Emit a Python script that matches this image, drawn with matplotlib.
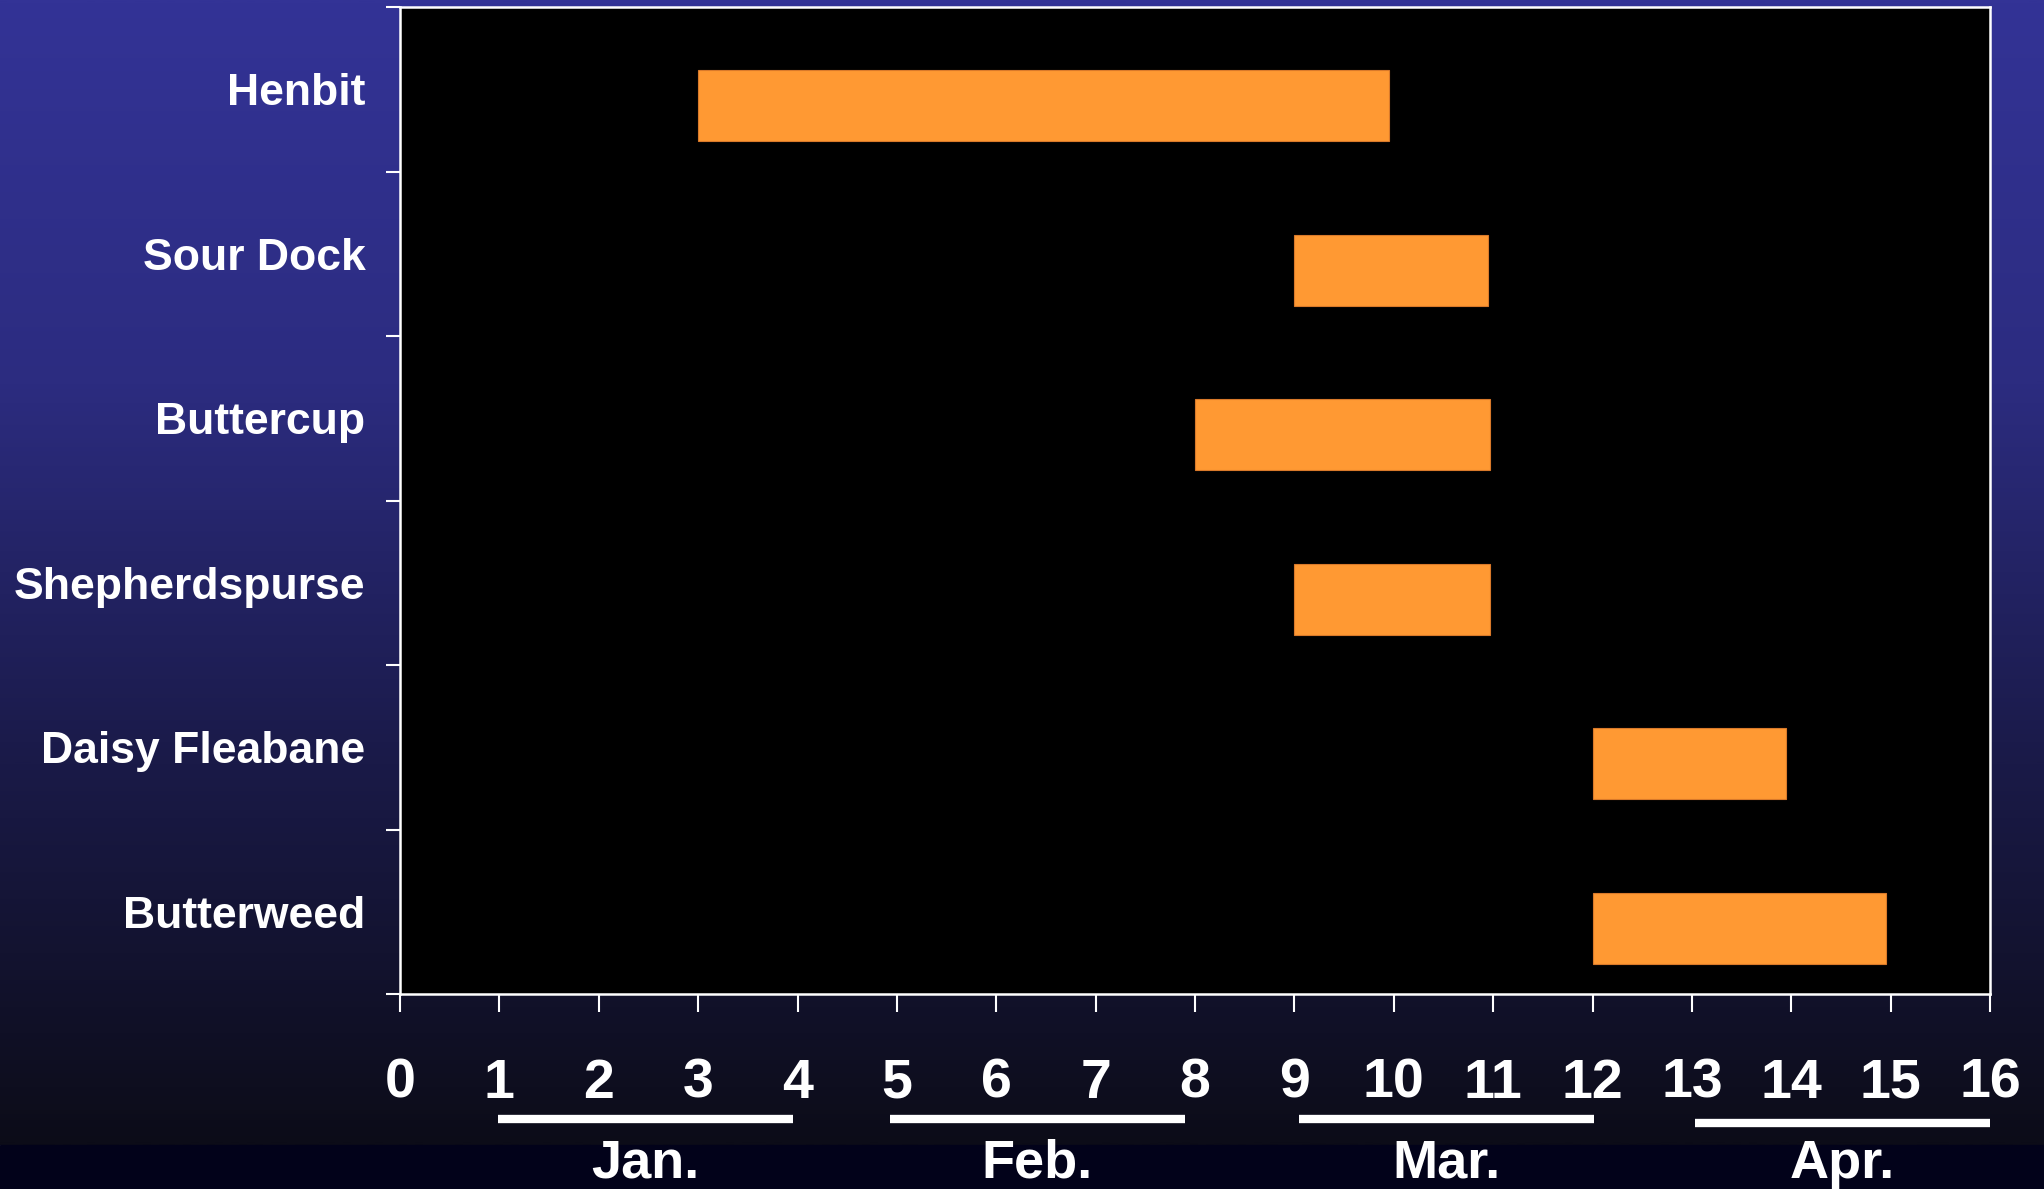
import numpy as np
import matplotlib
matplotlib.use("Agg")
import matplotlib.pyplot as plt
from matplotlib.colors import LinearSegmentedColormap

plt.rcParams['font.family'] = ['Liberation Sans', 'DejaVu Sans']
plt.rcParams['font.weight'] = 'bold'

# emergence windows (weeks from Jan 1)
weeds = ['Henbit', 'Sour Dock', 'Buttercup', 'Shepherdspurse', 'Daisy Fleabane', 'Butterweed']
start = [3, 9, 8, 9, 12, 12]
end = [9.95, 10.95, 10.97, 10.97, 13.95, 14.95]

weeks = list(range(0, 17))
months = ['Jan.', 'Feb.', 'Mar.', 'Apr.']
month_from = [0.99, 4.93, 9.05, 13.03]
month_to = [3.95, 7.9, 12.02, 16.0]

fig = plt.figure(figsize=(20.44, 11.89), dpi=100)

# slide-style background: blue fading to near black, darker strip at the foot
bg = fig.add_axes([0, 0, 1, 1], zorder=-10)
bg.axis('off')
cmap = LinearSegmentedColormap.from_list('bg', ['#333396', '#2c2c80', '#1a1a48', '#0c0c18'])
grad = np.linspace(0, 1, 512).reshape(-1, 1)
bg.set_xlim(0, 1)
bg.set_ylim(0, 1)
bg.axhspan(0, 44 / 1189, color='#02021a')
bg.imshow(grad, cmap=cmap, aspect='auto', extent=[0, 1, 44 / 1189, 1])

ax = fig.add_axes([400 / 2044, 1 - 994 / 1189, 1590 / 2044, 987 / 1189])
ax.set_facecolor('black')

ypos = np.arange(len(weeds)) + 0.6
ax.barh(ypos, np.array(end) - np.array(start), left=start, height=0.43,
        color='#ff9933', edgecolor='#d9792a', linewidth=0.8)

ax.set_xlim(0, 16)
ax.set_ylim(len(weeds), 0)

for s in ax.spines.values():
    s.set_color('white')
    s.set_linewidth(1.8)

ax.set_xticks(weeks)
ax.set_xticklabels([str(w) for w in weeks])
ax.tick_params(axis='x', colors='white', length=13, width=1.5, direction='out',
               pad=33, labelsize=40)

ax.set_yticks(range(len(weeds) + 1))
ax.set_yticklabels([])
ax.set_yticks(np.arange(len(weeds)) + 0.5, minor=True)
ax.set_yticklabels(weeds, minor=True)
ax.tick_params(axis='y', which='major', colors='white', length=10, width=1.5, direction='out')
ax.tick_params(axis='y', which='minor', colors='white', length=0, pad=25, labelsize=32)

# month underlines and names below the week numbers
for name, a, b in zip(months, month_from, month_to):
    yy = -0.1307 if name == 'Apr.' else -0.1266
    ax.plot([a, b], [yy, yy], transform=ax.get_xaxis_transform(), color='white',
            lw=6, solid_capstyle='butt', clip_on=False)
    ax.text((a + b) / 2, -0.1864, name, transform=ax.get_xaxis_transform(),
            ha='center', va='baseline', color='white', fontsize=39, fontweight='bold')

fig.savefig('out.png', dpi=100, facecolor=fig.get_facecolor())
